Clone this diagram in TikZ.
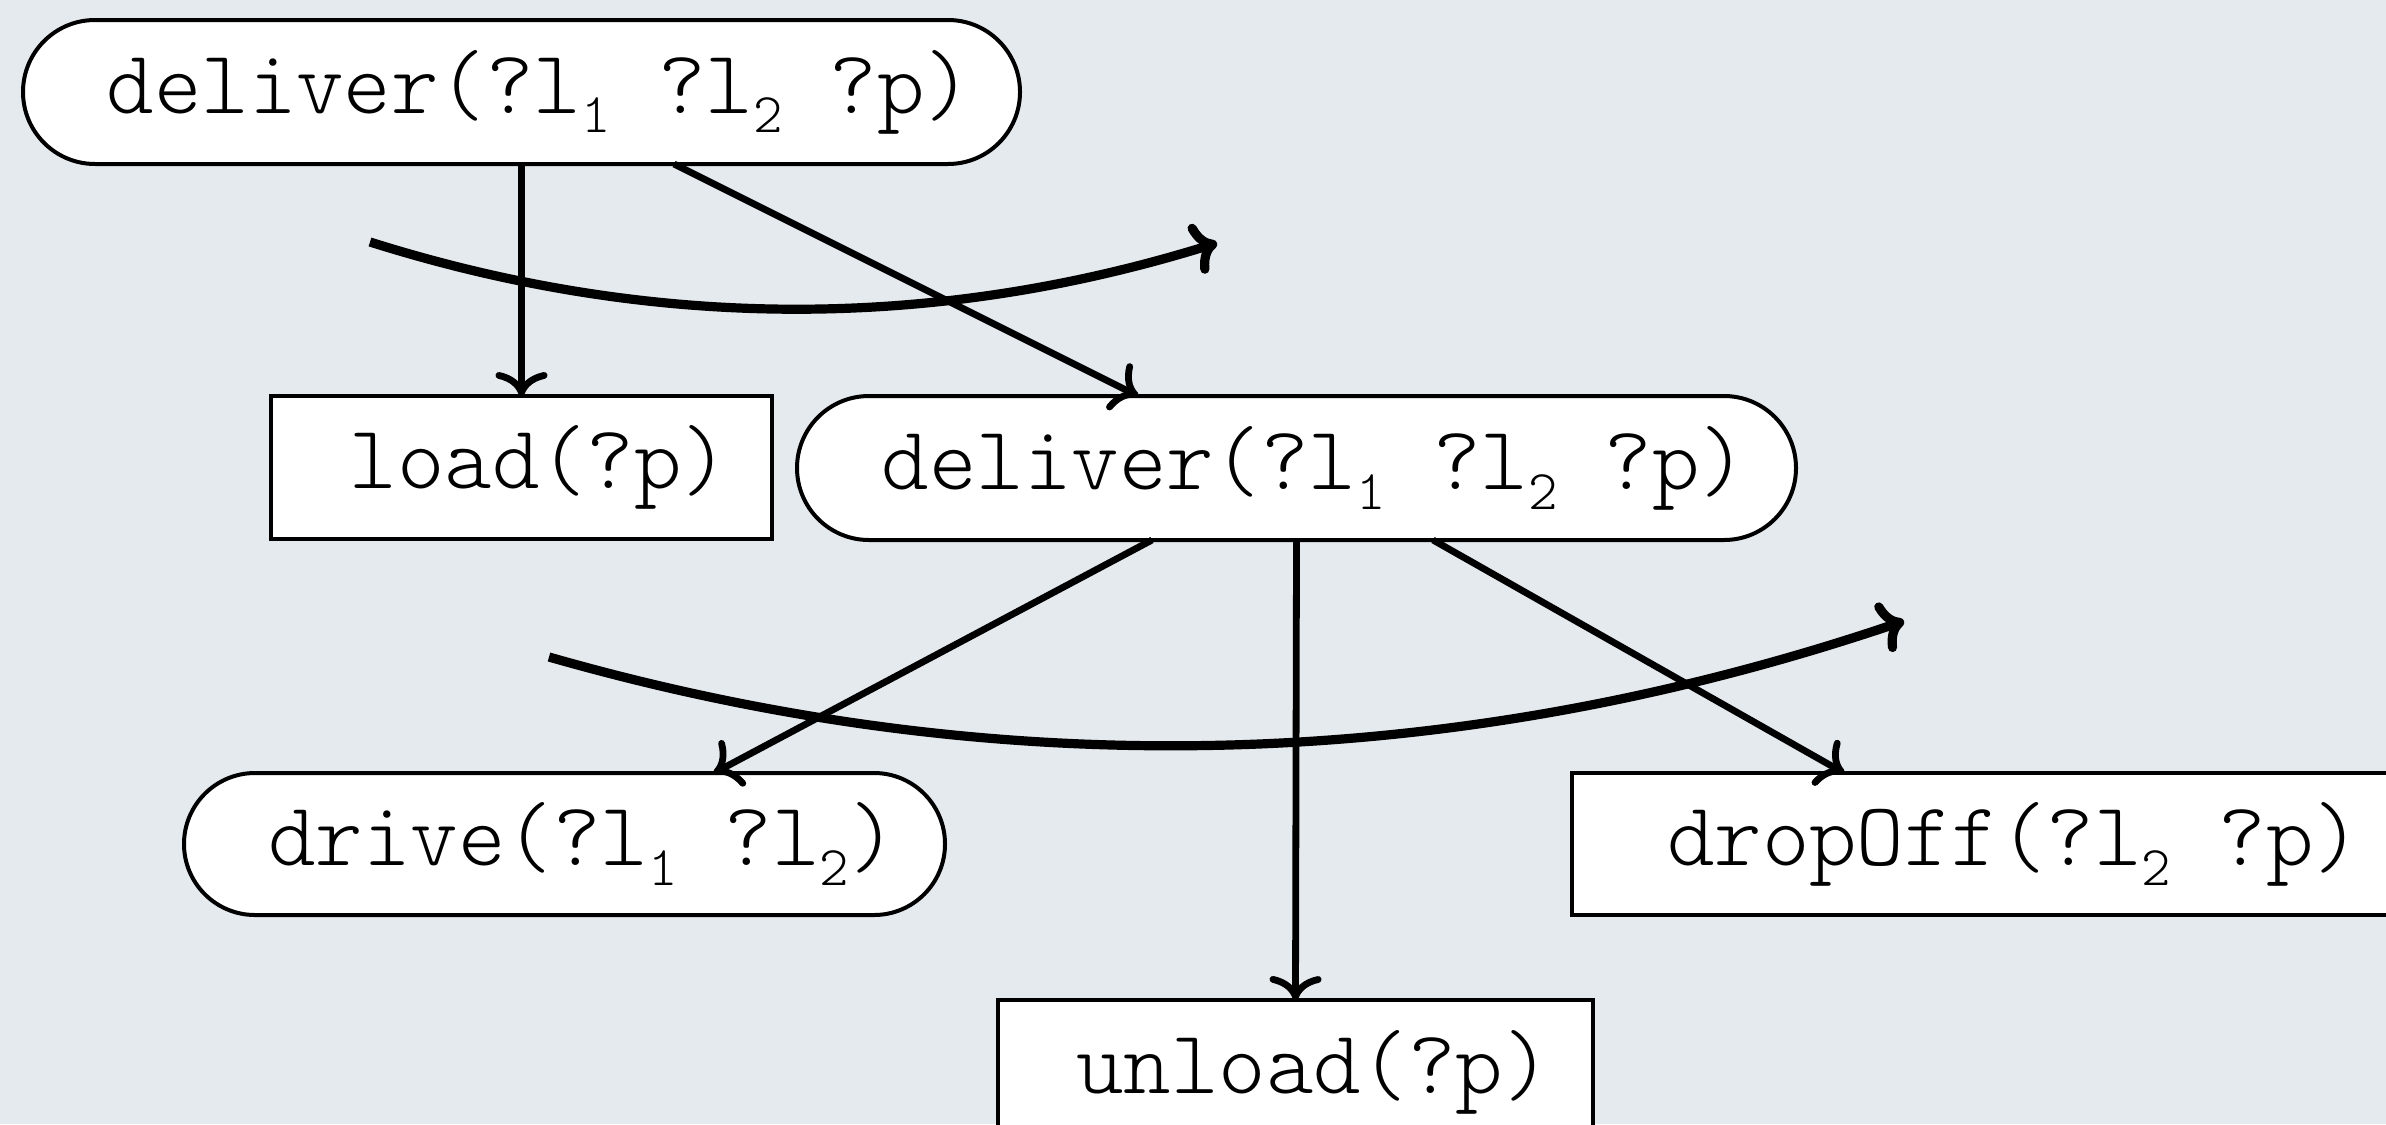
\documentclass[tikz,border=0pt]{standalone}
\usepackage{fontspec}
\setmonofont{Latin Modern Mono Light}
\usetikzlibrary{shapes.misc,arrows.meta,calc}
\definecolor{bgc}{HTML}{E5EAEF}
\newcommand\sbs[1]{\raisebox{-0.22em}{\fontsize{14}{14}\selectfont #1}}
\tikzset{
  task/.style={draw=black, fill=white, line width=1pt, inner sep=0pt, outer sep=0pt,
    font=\ttfamily\fontsize{22.6}{27}\selectfont, execute at begin node={\kern9pt}},
  method/.style={task, rounded rectangle},
  prim/.style={task, rectangle},
  edge/.style={line width=1.7pt, -{Computer Modern Rightarrow[length=6pt,width=13pt]}},
  order/.style={line width=2.3pt, -{Computer Modern Rightarrow[length=6pt,width=13pt]}}
}
\begin{document}
\begin{tikzpicture}[x=0.25pt,y=-0.25pt]
\fill[bgc] (0,0) rectangle (2386,1124);
\useasboundingbox (0,0) rectangle (2386,1124);
\begin{scope}
\clip (0,0) rectangle (2386,1124);
\node[method, minimum width=249.25pt, minimum height=36pt] (D1) at (521.5,92) {deliver(?l\sbs{1} ?l\sbs{2} ?p)};
\node[prim, minimum width=125.25pt, minimum height=35.75pt] (Load) at (521.5,467.5) {load(?p)};
\node[method, minimum width=249.75pt, minimum height=36pt] (D2) at (1296.5,468) {deliver(?l\sbs{1} ?l\sbs{2} ?p)};
\node[method, minimum width=190.25pt, minimum height=35.5pt] (Drive) at (564.5,844) {drive(?l\sbs{1} ?l\sbs{2})};
\node[prim, minimum width=212pt, minimum height=35.5pt] (Drop) at (1996,844) {dropOff(?l\sbs{2} ?p)};
\node[prim, minimum width=148.75pt, minimum height=36pt] (Unload) at (1295.5,1072) {unload(?p)};

\coordinate (c1s) at (370,242);
\coordinate (c1e) at (1217,243);
\coordinate (c2s) at (549,657);
\coordinate (c2e) at (1904,621);

\draw[edge] (D1.south) -- (Load.north);
\draw[edge] ($(D1.south)+(152.5,0)$) -- ($(D2.north)+(-158.5,0)$);
\draw[order] (c1s) .. controls (652,331) and (934,331) .. (c1e);

\draw[edge] ($(D2.south)+(-144.5,0)$) -- ($(Drive.north)+(149.5,0)$);
\draw[edge] (D2.south) -- (Unload.north);
\draw[edge] ($(D2.south)+(136.5,0)$) -- ($(Drop.north)+(-152,0)$);
\draw[order] (c2s) .. controls (1000,786) and (1452,774) .. (c2e);
\end{scope}
\end{tikzpicture}
\end{document}
